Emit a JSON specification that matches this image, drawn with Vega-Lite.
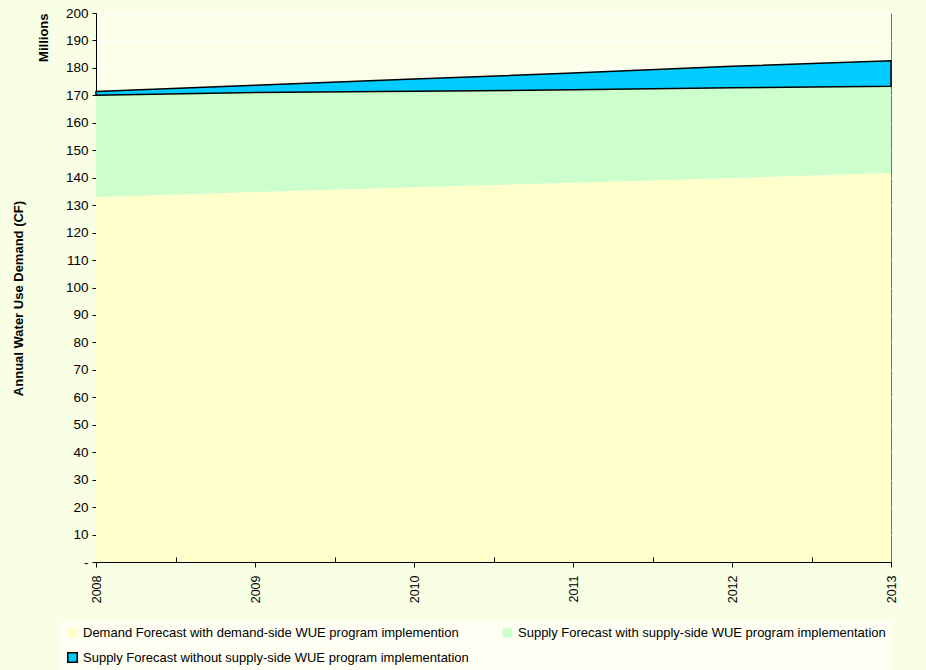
{
  "$schema": "https://vega.github.io/schema/vega-lite/v6.json",
  "autosize": "none",
  "padding": {"left": 96, "top": 13, "right": 35, "bottom": 108},
  "width": 795,
  "height": 549,
  "background": "#F9FFE4",
  "config": {
    "font": "Liberation Sans",
    "view": {"fill": "#FBFFE9", "stroke": "#707070", "strokeWidth": 1},
    "axis": {
      "labelFont": "Liberation Sans",
      "labelFontSize": 13.5,
      "labelColor": "#000000",
      "domainColor": "#000000",
      "tickColor": "#000000",
      "titleFont": "Liberation Sans",
      "titleFontSize": 13,
      "titleFontWeight": "bold",
      "titleColor": "#000000",
      "zindex": 1
    },
    "legend": {
      "labelFont": "Liberation Sans",
      "labelFontSize": 13,
      "labelColor": "#000000",
      "labelLimit": 0
    }
  },
  "data": {
    "values": [
      {"year": 2008, "demand": 133.0, "supplyWith": 170.0, "supplyWithout": 171.4},
      {"year": 2009, "demand": 134.8, "supplyWith": 171.0, "supplyWithout": 173.7},
      {"year": 2010, "demand": 136.5, "supplyWith": 171.5, "supplyWithout": 176.0},
      {"year": 2011, "demand": 138.2, "supplyWith": 172.0, "supplyWithout": 178.1},
      {"year": 2012, "demand": 139.9, "supplyWith": 172.8, "supplyWithout": 180.6},
      {"year": 2013, "demand": 141.7, "supplyWith": 173.3, "supplyWithout": 182.6}
    ]
  },
  "layer": [
    {
      "mark": {"type": "area", "interpolate": "linear"},
      "encoding": {
        "x": {
          "field": "year",
          "type": "quantitative",
          "scale": {"domain": [2008, 2013], "nice": false, "zero": false},
          "axis": {
            "orient": "bottom",
            "values": [2008, 2009, 2010, 2011, 2012, 2013],
            "format": "d",
            "labelAngle": -90,
            "labelFontSize": 12.5,
            "tickSize": 5,
            "labelPadding": 8,
            "grid": false,
            "title": null
          }
        },
        "y": {
          "field": "demand",
          "type": "quantitative",
          "stack": null,
          "scale": {"domain": [0, 200], "nice": false},
          "axis": {
            "orient": "left",
            "values": [0, 10, 20, 30, 40, 50, 60, 70, 80, 90, 100, 110, 120, 130, 140, 150, 160, 170, 180, 190, 200],
            "labelExpr": "datum.value === 0 ? '-' : datum.label",
            "grid": false,
            "tickSize": 4,
            "labelPadding": 4,
            "title": "Millions",
            "titleAnchor": "end",
            "titleX": -46
          }
        },
        "color": {
          "datum": "Demand Forecast with demand-side WUE program implemention",
          "type": "nominal",
          "scale": {
            "domain": [
              "Demand Forecast with demand-side WUE program implemention",
              "Supply Forecast with supply-side WUE program implementation",
              "Supply Forecast without supply-side WUE program implementation"
            ],
            "range": ["#FFFFCC", "#CCFFCC", "#00CCFF"]
          },
          "legend": {
            "title": null,
            "orient": "none",
            "legendX": -36,
            "legendY": 607,
            "direction": "horizontal",
            "columns": 2,
            "columnPadding": 30,
            "rowPadding": 8,
            "symbolType": "square",
            "symbolSize": 90,
            "symbolOpacity": 1,
            "labelOffset": 4,
            "labelLimit": 0,
            "fillColor": "#FEFFF2",
            "padding": 6,
            "encode": {
              "symbols": {
                "update": {
                  "stroke": {"signal": "datum.value === 'Supply Forecast without supply-side WUE program implementation' ? '#000000' : 'transparent'"},
                  "strokeWidth": {"value": 1.5}
                }
              }
            }
          }
        }
      }
    },
    {
      "mark": {"type": "area", "interpolate": "linear"},
      "encoding": {
        "x": {
          "field": "year",
          "type": "quantitative",
          "axis": {
            "orient": "bottom",
            "values": [2008.5, 2009.5, 2010.5, 2011.5, 2012.5],
            "labels": false,
            "domain": false,
            "grid": false,
            "ticks": true,
            "tickSize": 5,
            "offset": -5,
            "title": null,
            "zindex": 2
          }
        },
        "y": {
          "field": "supplyWith",
          "type": "quantitative",
          "stack": null,
          "axis": {
            "orient": "left",
            "values": [10, 20, 30, 40, 50, 60, 70, 80, 90, 100, 110, 120, 130, 140, 150, 160, 170, 180, 190, 200],
            "grid": true,
            "gridColor": "#FFFFFF",
            "gridWidth": 1,
            "domain": false,
            "ticks": false,
            "labels": false,
            "title": "Annual Water Use Demand (CF)",
            "titleX": -71,
            "titleY": 285,
            "zindex": 0
          }
        },
        "y2": {"field": "demand"},
        "color": {"datum": "Supply Forecast with supply-side WUE program implementation", "type": "nominal"}
      }
    },
    {
      "mark": {"type": "area", "interpolate": "linear", "stroke": "#000000", "strokeWidth": 1.5},
      "encoding": {
        "x": {"field": "year", "type": "quantitative", "axis": null},
        "y": {"field": "supplyWithout", "type": "quantitative", "stack": null, "axis": null},
        "y2": {"field": "supplyWith"},
        "color": {"datum": "Supply Forecast without supply-side WUE program implementation", "type": "nominal"}
      }
    }
  ],
  "resolve": {"axis": {"x": "independent", "y": "independent"}}
}
